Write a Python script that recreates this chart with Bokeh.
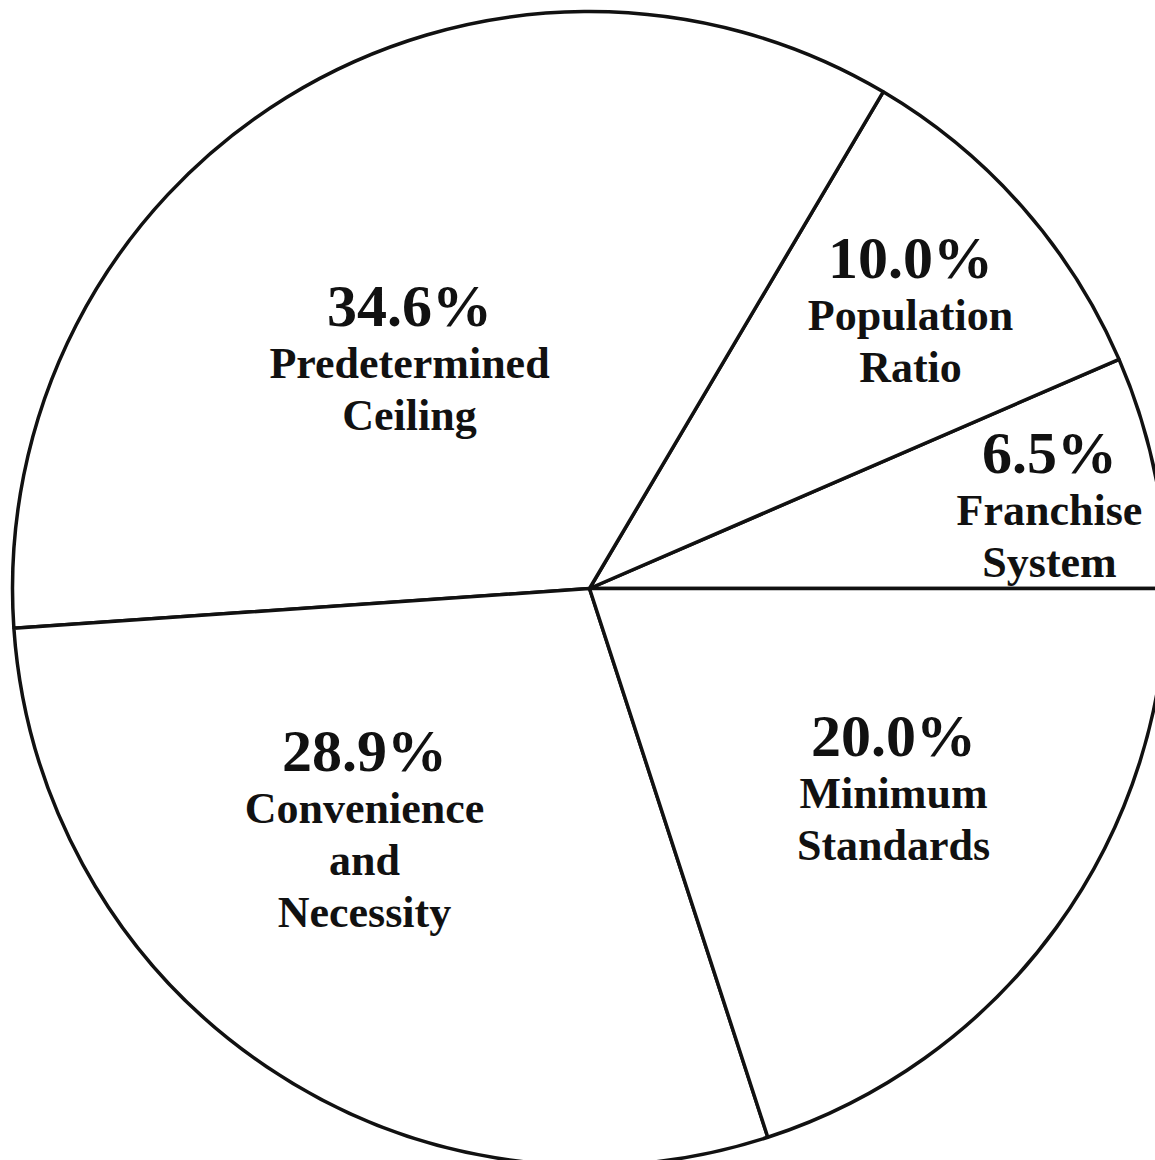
import numpy as np
from bokeh.plotting import figure
from bokeh.models import ColumnDataSource, Range1d
from bokeh.core.properties import value
from bokeh.embed import file_html
from bokeh.resources import INLINE

# ---- data ----
categories = ["Franchise System", "Population Ratio", "Predetermined Ceiling",
              "Convenience and Necessity", "Minimum Standards"]
shares = [6.5, 10.0, 34.6, 28.9, 20.0]
pct_labels = ["6.5%", "10.0%", "34.6%", "28.9%", "20.0%"]
name_lines = [["Franchise", "System"],
              ["Population", "Ratio"],
              ["Predetermined", "Ceiling"],
              ["Convenience", "and", "Necessity"],
              ["Minimum", "Standards"]]

# ---- layout (pixel coordinates of the page) ----
W, H = 1155, 1160
CX, CY, R = 589, 588, 577
PCT_SIZE, NAME_SIZE = 60, 44
# label anchor: (center x, baseline y of percent line) in page pixels
label_anchor = [(1049, 472), (910, 277), (409, 325), (364, 770), (893, 755)]
pct_to_first = 53
line_step = 52

frac = np.array(shares) / 100.0
ends = np.cumsum(frac) * 2 * np.pi
starts = np.concatenate([[0.0], ends[:-1]])

src = ColumnDataSource(dict(
    x=[CX] * len(shares), y=[H - CY] * len(shares),
    start=starts, end=ends, cat=categories))

p = figure(width=W, height=H, output_backend="svg", toolbar_location=None,
           x_range=Range1d(0, W), y_range=Range1d(0, H),
           min_border=0, outline_line_color=None,
           background_fill_color="white", border_fill_color="white")
p.axis.visible = False
p.grid.visible = False

p.wedge(x="x", y="y", radius=R, start_angle="start", end_angle="end",
        source=src, fill_color="white", line_color="#111111", line_width=3.5)

px, py, pt = [], [], []
nx, ny, nt = [], [], []
for (ax, ay), pl, lines in zip(label_anchor, pct_labels, name_lines):
    px.append(ax); py.append(H - (ay - 0.33 * PCT_SIZE)); pt.append(pl)
    for i, ln in enumerate(lines):
        nx.append(ax)
        ny.append(H - (ay + pct_to_first + i * line_step - 0.33 * NAME_SIZE))
        nt.append(ln)

p.text(x=px, y=py, text=pt, text_align="center", text_baseline="alphabetic",
       text_font=value("Liberation Serif"), text_font_style="bold",
       text_font_size=f"{PCT_SIZE}px", text_color="#111111")
p.text(x=nx, y=ny, text=nt, text_align="center", text_baseline="alphabetic",
       text_font=value("Liberation Serif"), text_font_style="bold",
       text_font_size=f"{NAME_SIZE}px", text_color="#111111")

open("out.html", "w").write(file_html(p, INLINE))
